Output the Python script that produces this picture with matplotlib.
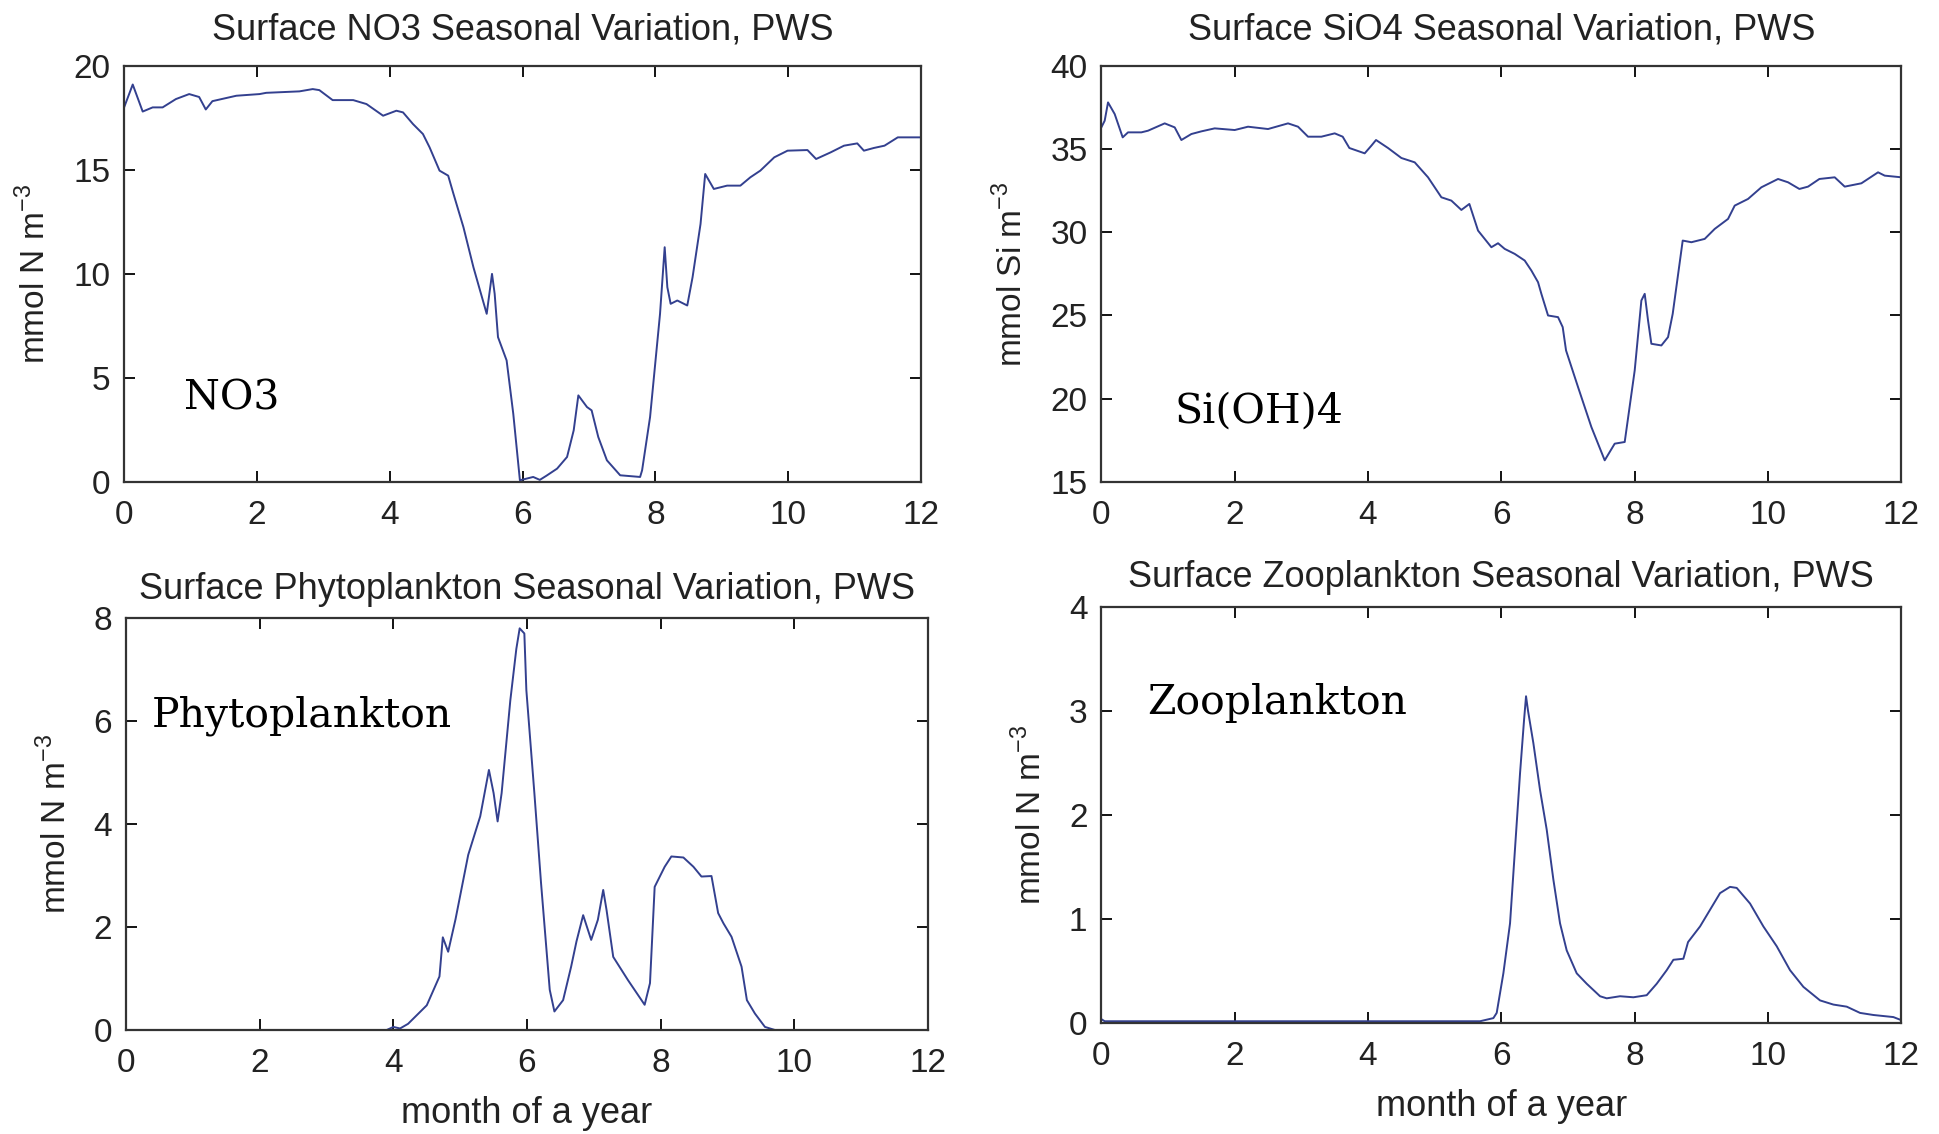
import matplotlib
matplotlib.use('Agg')
import matplotlib.pyplot as plt

plt.rcParams['font.family'] = 'Liberation Sans'
plt.rcParams['mathtext.fontset'] = 'custom'
plt.rcParams['mathtext.rm'] = 'Liberation Sans'

# ---- data (month, value) ----
no3_month = [0.0, 0.13, 0.28, 0.43, 0.58, 0.78, 0.98, 1.13, 1.23, 1.33, 1.69, 2.04, 2.14,
             2.64, 2.84, 2.94, 3.14, 3.45, 3.65, 3.9, 4.1, 4.2, 4.35, 4.5, 4.6, 4.75,
             4.88, 4.96, 5.11, 5.26, 5.36, 5.46, 5.54, 5.58, 5.63, 5.76, 5.86, 5.96,
             6.06, 6.16, 6.26, 6.36, 6.52, 6.67, 6.77, 6.84, 6.97, 7.04, 7.14, 7.27,
             7.47, 7.77, 7.8, 7.92, 8.07, 8.14, 8.18, 8.23, 8.33, 8.48, 8.56, 8.68,
             8.75, 8.88, 9.08, 9.28, 9.43, 9.58, 9.79, 9.99, 10.29, 10.42, 10.64,
             10.84, 11.04, 11.14, 11.29, 11.45, 11.65, 12.0]
no3_val = [18.0, 19.1, 17.8, 18.0, 18.0, 18.4, 18.64, 18.5, 17.9, 18.3, 18.56, 18.64, 18.7,
           18.77, 18.88, 18.83, 18.35, 18.35, 18.16, 17.6, 17.84, 17.76, 17.2, 16.72, 16.08,
           14.96, 14.72, 13.84, 12.24, 10.32, 9.2, 8.08, 10.0, 9.04, 6.96, 5.84, 3.28, 0.08,
           0.16, 0.24, 0.1, 0.3, 0.64, 1.2, 2.48, 4.16, 3.6, 3.44, 2.16, 1.04,
           0.32, 0.24, 0.56, 3.12, 8.08, 11.28, 9.36, 8.56, 8.72, 8.48, 9.84, 12.4,
           14.8, 14.08, 14.24, 14.24, 14.64, 14.96, 15.6, 15.92, 15.95, 15.52, 15.84,
           16.16, 16.27, 15.92, 16.05, 16.16, 16.56, 16.56]

sio4_month = [0.0, 0.05, 0.1, 0.2, 0.32, 0.4, 0.6, 0.7, 0.95, 1.1, 1.2, 1.35, 1.5, 1.7,
              2.0, 2.2, 2.5, 2.8, 2.95, 3.1, 3.3, 3.5, 3.62, 3.72, 3.95, 4.05, 4.12,
              4.3, 4.5, 4.7, 4.9, 5.1, 5.25, 5.4, 5.52, 5.65, 5.85, 5.95, 6.05, 6.2,
              6.35, 6.45, 6.55, 6.6, 6.7, 6.85, 6.92, 6.97, 7.15, 7.35, 7.55, 7.7,
              7.85, 8.0, 8.1, 8.15, 8.2, 8.25, 8.4, 8.5, 8.57, 8.72, 8.85, 9.05, 9.2,
              9.4, 9.5, 9.7, 9.9, 10.15, 10.3, 10.47, 10.6, 10.77, 11.0, 11.15, 11.4,
              11.65, 11.75, 12.0]
sio4_val = [36.3, 36.7, 37.8, 37.1, 35.7, 36.0, 36.0, 36.1, 36.54, 36.3, 35.54, 35.9, 36.06,
            36.24, 36.14, 36.34, 36.2, 36.54, 36.34, 35.74, 35.74, 35.94, 35.74, 35.06,
            34.74, 35.2, 35.54, 35.06, 34.46, 34.2, 33.3, 32.1, 31.9, 31.34, 31.7, 30.1,
            29.1, 29.34, 29.0, 28.7, 28.3, 27.7, 27.0, 26.3, 25.0, 24.9, 24.3, 22.9,
            20.7, 18.3, 16.3, 17.3, 17.4, 21.7, 25.9, 26.3, 24.7, 23.3, 23.2, 23.7,
            25.1, 29.5, 29.4, 29.6, 30.2, 30.8, 31.6, 32.0, 32.7, 33.2, 33.0, 32.6,
            32.74, 33.2, 33.3, 32.74, 32.94, 33.6, 33.4, 33.3]

phyto_month = [0.0, 3.9, 4.0, 4.1, 4.22, 4.5, 4.69, 4.74, 4.82, 4.93, 5.12, 5.3, 5.43,
               5.5, 5.56, 5.62, 5.75, 5.84, 5.89, 5.96, 5.99, 6.11, 6.21, 6.34, 6.41,
               6.54, 6.66, 6.74, 6.84, 6.96, 7.06, 7.14, 7.19, 7.29, 7.51, 7.76, 7.84,
               7.91, 8.06, 8.16, 8.34, 8.49, 8.61, 8.76, 8.86, 8.94, 9.06, 9.21, 9.29,
               9.41, 9.56, 9.71, 12.0]
phyto_val = [0.0, 0.0, 0.06, 0.03, 0.12, 0.48, 1.04, 1.8, 1.52, 2.15, 3.4, 4.15, 5.05,
             4.6, 4.05, 4.6, 6.4, 7.4, 7.8, 7.7, 6.6, 4.6, 2.85, 0.78, 0.36,
             0.58, 1.23, 1.72, 2.23, 1.75, 2.14, 2.72, 2.33, 1.42, 0.97, 0.49, 0.91,
             2.78, 3.17, 3.37, 3.35, 3.17, 2.98, 2.99, 2.27, 2.07, 1.81, 1.23, 0.58,
             0.32, 0.06, 0.0, 0.0]

zoo_month = [0.0, 0.05, 5.68, 5.88, 5.93, 6.03, 6.13, 6.23, 6.28, 6.34, 6.37, 6.4, 6.48,
             6.58, 6.68, 6.78, 6.88, 6.98, 7.13, 7.28, 7.48, 7.58, 7.78, 7.98, 8.18,
             8.33, 8.48, 8.58, 8.73, 8.8, 8.98, 9.13, 9.28, 9.43, 9.53, 9.73, 9.93,
             10.13, 10.33, 10.53, 10.78, 10.98, 11.18, 11.38, 11.58, 11.88, 12.0]
zoo_val = [0.04, 0.02, 0.02, 0.05, 0.1, 0.48, 0.96, 1.92, 2.4, 2.91, 3.14, 3.0, 2.69,
           2.24, 1.86, 1.38, 0.96, 0.7, 0.48, 0.38, 0.26, 0.24, 0.26, 0.25, 0.27,
           0.38, 0.51, 0.61, 0.62, 0.78, 0.93, 1.09, 1.25, 1.31, 1.3, 1.15, 0.93,
           0.74, 0.51, 0.35, 0.22, 0.18, 0.16, 0.1, 0.08, 0.06, 0.03]

panels = [
    dict(pos=[0.064, 0.575, 0.411, 0.367], x=no3_month, y=no3_val, ylim=(0, 20),
         yticks=[0, 5, 10, 15, 20], title='Surface NO3 Seasonal Variation, PWS',
         ylabel=r'mmol N m$^{-3}$', label='NO3', lx=0.9, ly=4.0, xlabel=None, tpad=19),
    dict(pos=[0.568, 0.575, 0.4126, 0.367], x=sio4_month, y=sio4_val, ylim=(15, 40),
         yticks=[15, 20, 25, 30, 35, 40], title='Surface SiO4 Seasonal Variation, PWS',
         ylabel=r'mmol Si m$^{-3}$', label='Si(OH)4', lx=1.1, ly=19.2, xlabel=None, tpad=19),
    dict(pos=[0.065, 0.0917, 0.4136, 0.3633], x=phyto_month, y=phyto_val, ylim=(0, 8),
         yticks=[0, 2, 4, 6, 8], title='Surface Phytoplankton Seasonal Variation, PWS',
         ylabel=r'mmol N m$^{-3}$', label='Phytoplankton', lx=0.39, ly=6.1,
         xlabel='month of a year', tpad=14),
    dict(pos=[0.568, 0.0976, 0.4126, 0.3674], x=zoo_month, y=zoo_val, ylim=(0, 4),
         yticks=[0, 1, 2, 3, 4], title='Surface Zooplankton Seasonal Variation, PWS',
         ylabel=r'mmol N m$^{-3}$', label='Zooplankton', lx=0.69, ly=3.08,
         xlabel='month of a year', tpad=14),
]

fig = plt.figure(figsize=(19.39, 11.34), dpi=100)
line_color = '#33408f'
text_color = '#222222'

for p in panels:
    ax = fig.add_axes(p['pos'])
    ax.plot(p['x'], p['y'], color=line_color, lw=1.4)
    ax.set_xlim(0, 12)
    ax.set_ylim(*p['ylim'])
    ax.set_xticks([0, 2, 4, 6, 8, 10, 12])
    ax.set_yticks(p['yticks'])
    ax.tick_params(direction='in', top=True, right=True, length=8, width=1.3,
                   labelsize=24, labelcolor=text_color, pad=10)
    ax.tick_params(axis='x', pad=13)
    for s in ax.spines.values():
        s.set_linewidth(1.6)
        s.set_color('#333333')
    ax.set_title(p['title'], fontsize=26, color=text_color, pad=p['tpad'])
    ax.set_ylabel(p['ylabel'], fontsize=24, color=text_color, labelpad=15)
    if p['xlabel']:
        ax.set_xlabel(p['xlabel'], fontsize=26, color=text_color, labelpad=12)
    ax.text(p['lx'], p['ly'], p['label'], fontsize=29.5, family='DejaVu Serif',
            va='center', ha='left', color='black')

fig.savefig('out.png', dpi=100)
